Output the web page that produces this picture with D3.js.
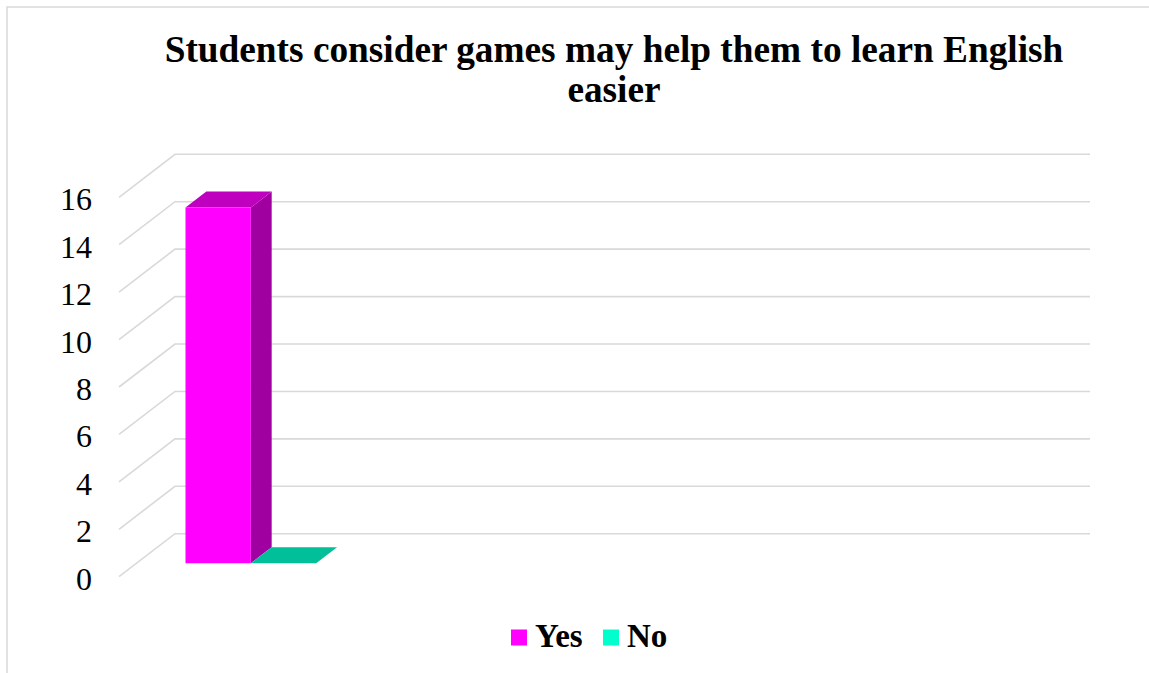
<!DOCTYPE html>
<html>
<head>
<meta charset="utf-8">
<script src="https://cdn.jsdelivr.net/npm/d3@7"></script>
<style>
  html, body { margin: 0; padding: 0; background: #fff; }
  svg { display: block; }
  text { font-family: "Liberation Serif", "Times New Roman", serif; fill: #000; }
</style>
</head>
<body>
<svg id="chart" width="1149" height="673"></svg>
<script>
// Survey answers per category; only the first category has responses
const categories = ["Games", "c2", "c3", "c4"];
const seriesNames = ["Yes", "No"];
const yesValues = [15, null, null, null];
const noValues = [0, null, null, null];
const yTicks = [0, 2, 4, 6, 8, 10, 12, 14, 16];
const titleLines = ["Students consider games may help them to learn English", "easier"];

const seriesValues = [yesValues, noValues];
const seriesColors = ["#FF00FF", "#00FFCC"];

const svg = d3.select("#chart");
const W = 1149, H = 673;

// chart frame
svg.append("rect")
  .attr("x", 7).attr("y", 7)
  .attr("width", W + 10).attr("height", H + 10)
  .attr("fill", "#fff").attr("stroke", "#d9d9d9").attr("stroke-width", 1.5);

// title
const title = svg.append("text")
  .attr("text-anchor", "middle")
  .attr("font-weight", "bold")
  .attr("font-size", 37.3);
titleLines.forEach((t, i) => {
  title.append("tspan").attr("x", 614).attr("y", 62 + i * 40).text(t);
});

// oblique 3D projection: back wall plane plus a depth offset toward the viewer
const backLeft = 175, backRight = 1090;
const depthDX = -56, depthDY = 43;          // full depth, back -> front
const proj = (x, y, d) => [x + depthDX * d, y + depthDY * d];

const y = d3.scaleLinear().domain([0, 16]).range([533.7, 154.3]);
const x = d3.scaleBand().domain(categories).range([backLeft, backRight]);

// gridlines: horizontal on the back wall, diagonal on the side wall
const grid = svg.append("g").attr("stroke", "#d9d9d9").attr("stroke-width", 1.6).attr("fill", "none");
yTicks.forEach(v => {
  const [fx, fy] = proj(backLeft, y(v), 1);
  grid.append("path")
    .attr("d", `M${fx},${fy}L${backLeft},${y(v)}L${backRight},${y(v)}`);
});

// y-axis labels at the front edge of the side wall
svg.append("g")
  .selectAll("text")
  .data(yTicks)
  .join("text")
  .attr("x", 92)
  .attr("y", v => proj(backLeft, y(v), 1)[1] + 2)
  .attr("text-anchor", "end")
  .attr("dominant-baseline", "central")
  .attr("font-size", 32)
  .text(d => d3.format("d")(d));

// 3D columns
const gapRatio = 1.5;                        // gap width relative to one column
const colW = x.bandwidth() / (seriesNames.length + gapRatio);
const dFront = 0.688, dBack = 0.316;         // column depth slab

const shade = (c, k) => {
  const r = d3.rgb(c);
  return d3.rgb(r.r * k, r.g * k, r.b * k).formatHex();
};
const poly = pts => "M" + pts.map(p => p.join(",")).join("L") + "Z";

const bars = svg.append("g");
categories.forEach((cat, ci) => {
  seriesNames.forEach((s, si) => {
    const v = seriesValues[si][ci];
    if (v === null || v === undefined) return;
    const x0 = x(cat) + colW * gapRatio / 2 + si * colW;
    const x1 = x0 + colW;
    const yTop = y(v), yBase = y(0);
    const col = seriesColors[si];
    // side face
    if (v > 0) {
      bars.append("path")
        .attr("d", poly([proj(x1, yBase, dFront), proj(x1, yTop, dFront), proj(x1, yTop, dBack), proj(x1, yBase, dBack)]))
        .attr("fill", shade(col, 0.63));
    }
    // top face
    bars.append("path")
      .attr("d", poly([proj(x0, yTop, dFront), proj(x1, yTop, dFront), proj(x1, yTop, dBack), proj(x0, yTop, dBack)]))
      .attr("fill", shade(col, 0.75));
    // front face
    if (v > 0) {
      bars.append("path")
        .attr("d", poly([proj(x0, yBase, dFront), proj(x1, yBase, dFront), proj(x1, yTop, dFront), proj(x0, yTop, dFront)]))
        .attr("fill", col);
    }
  });
});

// legend
const legend = svg.append("g");
const legendItems = [{ x: 511 }, { x: 603 }];
seriesNames.forEach((s, i) => {
  const lx = legendItems[i].x;
  legend.append("rect")
    .attr("x", lx).attr("y", 629.5).attr("width", 16).attr("height", 16)
    .attr("fill", seriesColors[i]);
  legend.append("text")
    .attr("x", lx + 24).attr("y", 646.5)
    .attr("font-size", 33).attr("font-weight", "bold")
    .text(s);
});
</script>
</body>
</html>
